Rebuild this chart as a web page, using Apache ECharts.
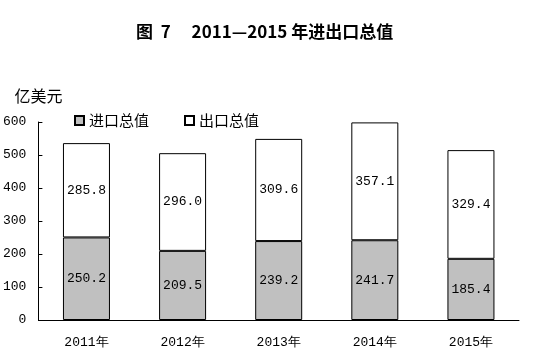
<!DOCTYPE html>
<html><head><meta charset="utf-8">
<script src="https://cdn.jsdelivr.net/npm/echarts@6/dist/echarts.min.js"></script>
<style>html,body{margin:0;padding:0;background:#fff}#c{width:550px;height:359px}</style>
</head><body><div id="c"></div>
<script>
const categories = ['2011年','2012年','2013年','2014年','2015年'];
const importValues = [250.2, 209.5, 239.2, 241.7, 185.4];
const exportValues = [285.8, 296.0, 309.6, 357.1, 329.4];
const seriesNames = ['进口总值','出口总值'];
const yTicks = [0,100,200,300,400,500,600];

const chart = echarts.init(document.getElementById('c'));
const cjk = '"Noto Sans CJK SC", sans-serif';
const mono = '"Liberation Mono", "DejaVu Sans Mono", monospace';
chart.setOption({
  animation: false,
  title: {
    text: '图\u00a0\u00a07\u3000\u00a02011—2015 年进出口总值',
    left: 136, top: 23, padding: 0,
    textStyle: {fontFamily: cjk, fontSize: 17, fontWeight: 'bold', color: '#000'}
  },
  legend: {
    data: seriesNames,
    left: 74, top: 113, padding: 0,
    itemWidth: 9, itemHeight: 9, itemGap: 35,
    icon: 'rect',
    textStyle: {fontFamily: cjk, fontSize: 15, color: '#000'}
  },
  grid: {left: 37, right: 31, top: 122, bottom: 39},
  xAxis: {
    type: 'category', data: categories,
    axisLine: {lineStyle: {color: '#000', width: 1}},
    axisTick: {inside: true, length: 5, lineStyle: {color: '#000'}},
    axisLabel: {fontFamily: mono, fontSize: 13, color: '#000', margin: 16}
  },
  yAxis: {
    type: 'value', min: yTicks[0], max: yTicks[yTicks.length-1], interval: 100,
    name: '亿美元', nameLocation: 'end', nameGap: 18,
    nameTextStyle: {fontFamily: cjk, fontSize: 16, color: '#000', align: 'center'},
    splitLine: {show: false},
    axisLine: {show: true, lineStyle: {color: '#000', width: 1}},
    axisTick: {show: true, inside: true, length: 4, lineStyle: {color: '#000'}},
    axisLabel: {fontFamily: mono, fontSize: 13, color: '#000', margin: 12}
  },
  series: [
    {
      name: seriesNames[0], type: 'bar', stack: 'total', data: importValues, barWidth: 47,
      itemStyle: {color: '#c0c0c0', borderColor: '#000', borderWidth: 1},
      label: {show: true, position: 'inside', fontFamily: mono, fontSize: 13, color: '#000',
        formatter: p => p.value.toFixed(1)}
    },
    {
      name: seriesNames[1], type: 'bar', stack: 'total', data: exportValues, barWidth: 47,
      itemStyle: {color: '#fff', borderColor: '#000', borderWidth: 1},
      label: {show: true, position: 'inside', fontFamily: mono, fontSize: 13, color: '#000',
        formatter: p => p.value.toFixed(1)}
    }
  ]
});
</script></body></html>
